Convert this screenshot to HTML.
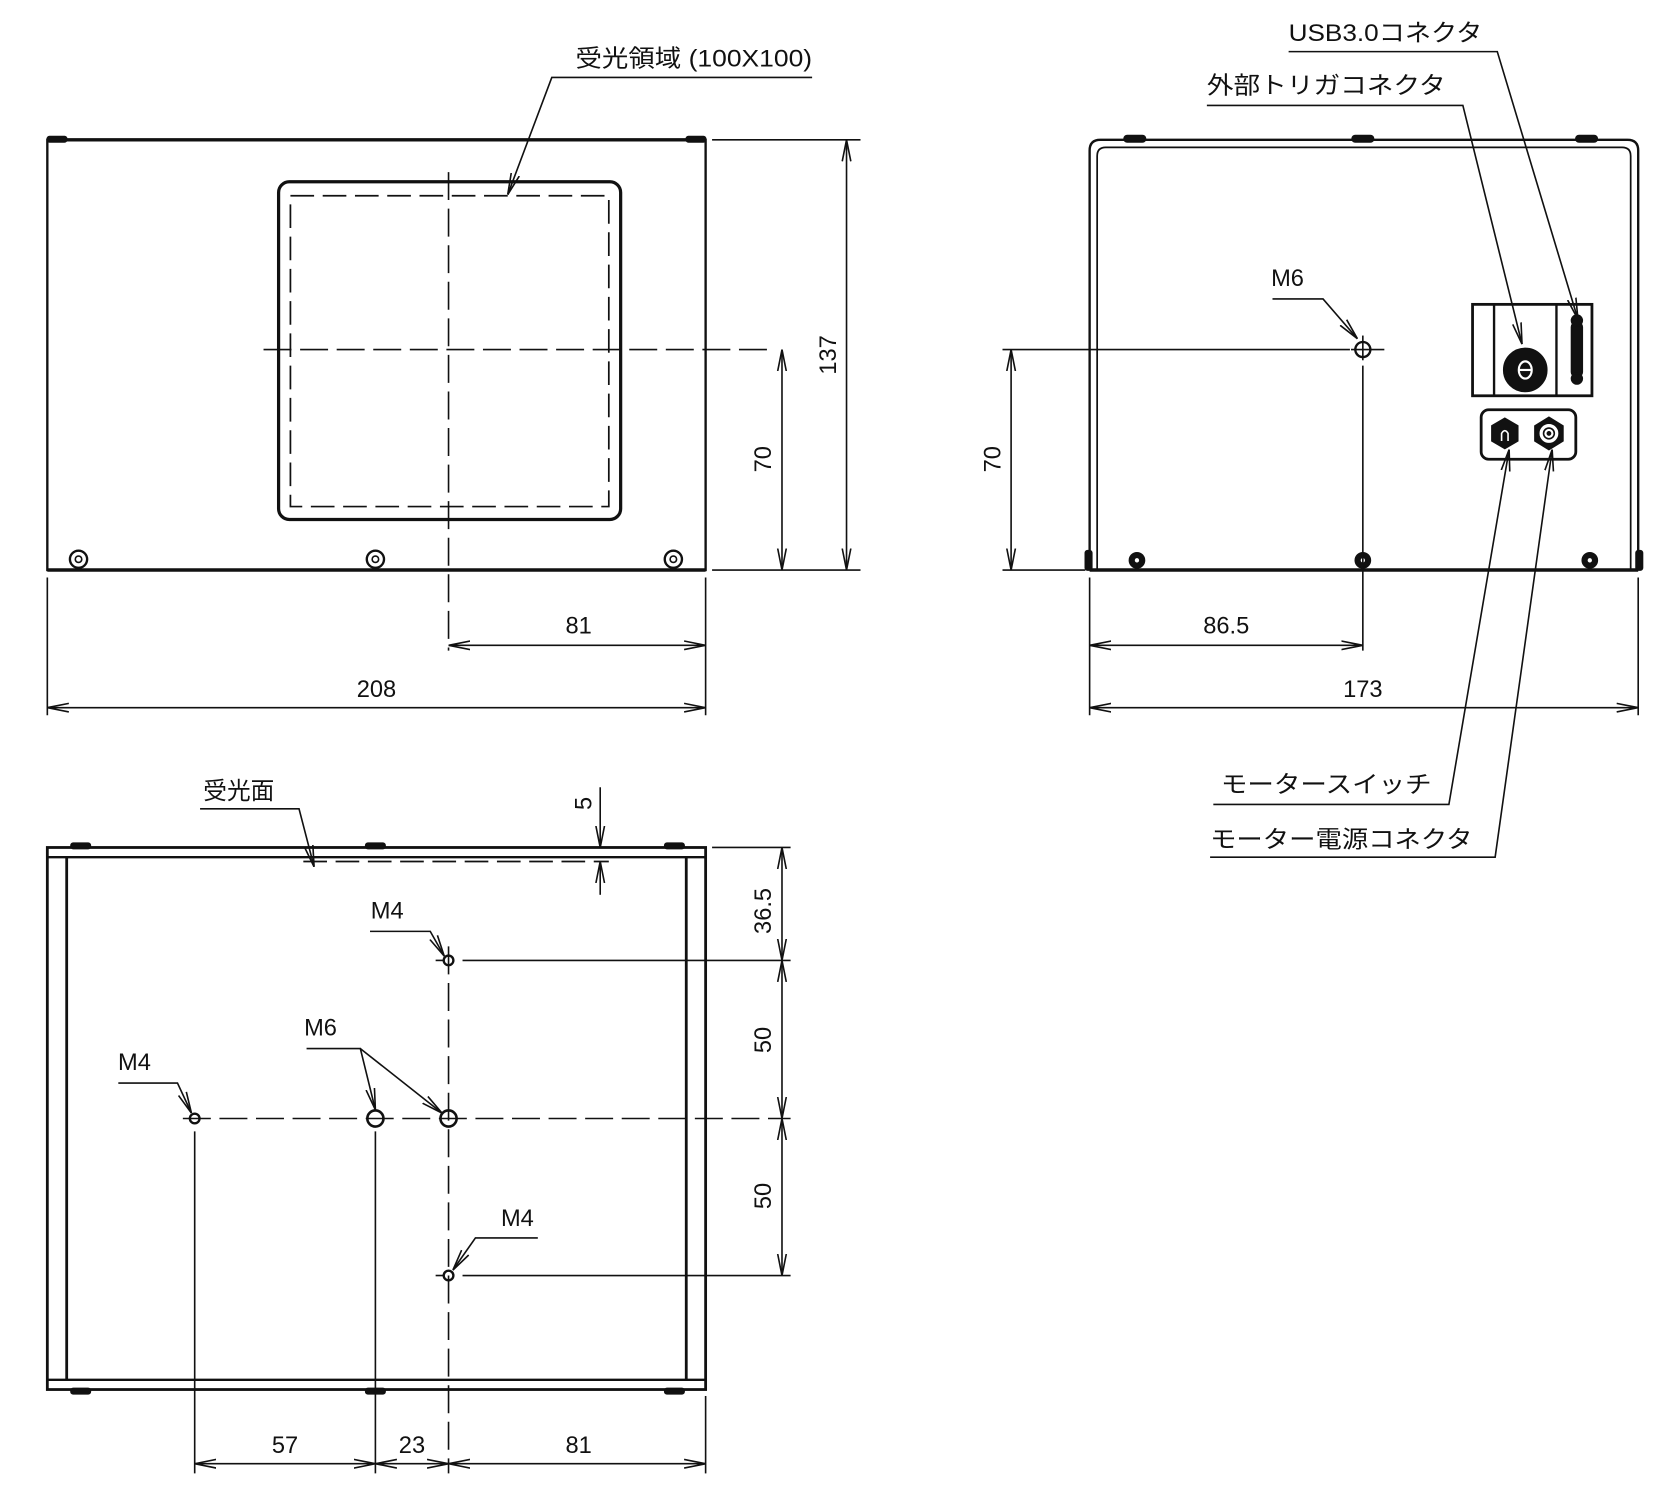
<!DOCTYPE html>
<html><head><meta charset="utf-8"><style>
html,body{margin:0;padding:0;background:#fff;}
svg{display:block;}
text{font-family:"Liberation Sans","Noto Sans CJK JP",sans-serif;fill:#111;font-size:22px;}
</style></head><body>
<svg width="1678" height="1496" viewBox="0 0 1560 1391" preserveAspectRatio="none" xmlns="http://www.w3.org/2000/svg">
<defs>
<marker id="a" viewBox="0 0 20 10" refX="20" refY="5" markerWidth="20" markerHeight="10" markerUnits="userSpaceOnUse" orient="auto-start-reverse">
<path d="M0,1 L20,5 L0,9" fill="none" stroke="#111" stroke-width="1.5"/>
</marker>
</defs>
<rect width="1560" height="1391" fill="#fff"/>
<g stroke="#111" fill="none" stroke-width="1.5">

<!-- ========== FRONT VIEW ========== -->
<rect x="44" y="130" width="612" height="400" stroke-width="2.2"/>
<line x1="44" y1="530" x2="656" y2="530" stroke-width="3.2"/>
<line x1="44" y1="130" x2="656" y2="130" stroke-width="3.2"/>
<rect x="44" y="127" width="18" height="5" rx="2" fill="#111"/>
<rect x="638" y="127" width="18" height="5" rx="2" fill="#111"/>
<rect x="259" y="169" width="318" height="314" rx="10" stroke-width="3"/>
<rect x="270" y="182" width="296" height="289" stroke-dasharray="22,8" stroke-width="1.6"/>
<line x1="417" y1="160" x2="417" y2="605" stroke-dasharray="26,8"/>
<line x1="245" y1="325" x2="720" y2="325" stroke-dasharray="26,8"/>
<circle cx="73" cy="520" r="8" stroke-width="2.2"/><circle cx="73" cy="520" r="3"/>
<circle cx="349" cy="520" r="8" stroke-width="2.2"/><circle cx="349" cy="520" r="3"/>
<circle cx="626" cy="520" r="8" stroke-width="2.2"/><circle cx="626" cy="520" r="3"/>
<line x1="662" y1="130" x2="800" y2="130"/>
<line x1="662" y1="530" x2="800" y2="530"/>
<line x1="787" y1="130" x2="787" y2="530" marker-start="url(#a)" marker-end="url(#a)"/>
<line x1="727" y1="325" x2="727" y2="530" marker-start="url(#a)" marker-end="url(#a)"/>
<line x1="44" y1="537" x2="44" y2="665"/>
<line x1="656" y1="537" x2="656" y2="665"/>
<line x1="417" y1="600" x2="656" y2="600" marker-start="url(#a)" marker-end="url(#a)"/>
<line x1="44" y1="658" x2="656" y2="658" marker-start="url(#a)" marker-end="url(#a)"/>
<polyline points="755,72 513,72 472,181" marker-end="url(#a)"/>

<!-- ========== SIDE VIEW ========== -->
<path d="M1013,530 L1013,140 Q1013,130 1023,130 L1513,130 Q1523,130 1523,140 L1523,530" stroke-width="2.2"/>
<path d="M1020,530 L1020,145 Q1020,137 1028,137 L1508,137 Q1516,137 1516,145 L1516,530" stroke-width="1.6"/>
<line x1="1013" y1="530" x2="1523" y2="530" stroke-width="3.2"/>
<rect x="1045" y="126" width="20" height="6" rx="3" fill="#111"/>
<rect x="1257" y="126" width="20" height="6" rx="3" fill="#111"/>
<rect x="1465" y="126" width="20" height="6" rx="3" fill="#111"/>
<rect x="1009" y="512" width="6" height="18" rx="2" fill="#111"/>
<rect x="1521" y="512" width="6" height="18" rx="2" fill="#111"/>
<circle cx="1057" cy="521" r="7" fill="#111"/><circle cx="1057" cy="521" r="2" fill="#fff" stroke="none"/>
<circle cx="1267" cy="521" r="7" fill="#111"/><circle cx="1267" cy="521" r="2" fill="#fff" stroke="none"/>
<circle cx="1478" cy="521" r="7" fill="#111"/><circle cx="1478" cy="521" r="2" fill="#fff" stroke="none"/>
<circle cx="1267" cy="325" r="7" stroke-width="2.2"/>
<line x1="1256" y1="325" x2="1287" y2="325"/>
<line x1="1267" y1="312" x2="1267" y2="335"/>
<line x1="1267" y1="340" x2="1267" y2="605"/>
<polyline points="1183,278 1230,278 1262,315" marker-end="url(#a)"/>
<rect x="1369" y="283" width="111" height="85" stroke-width="2.6"/>
<line x1="1389" y1="283" x2="1389" y2="368" stroke-width="2.2"/>
<line x1="1447" y1="283" x2="1447" y2="368" stroke-width="2.2"/>
<circle cx="1418" cy="344" r="20" fill="#111"/>
<ellipse cx="1418" cy="344" rx="6" ry="8" stroke="#fff" stroke-width="2"/>
<line x1="1412" y1="344" x2="1424" y2="344" stroke="#fff" stroke-width="2"/>
<rect x="1461" y="300" width="10" height="50" rx="4" fill="#111"/>
<circle cx="1466" cy="298" r="5" fill="#111"/>
<circle cx="1466" cy="352" r="5" fill="#111"/>
<rect x="1377" y="381" width="88" height="46" rx="7" stroke-width="2.6"/>
<polygon points="1399,389 1411,396 1411,410 1399,417 1387,410 1387,396" fill="#111"/>
<path d="M1396,410 L1396,403 Q1399,398 1402,403 L1402,410" stroke="#fff" stroke-width="1.5"/>
<polygon points="1440,388 1453,396 1453,410 1440,418 1427,410 1427,396" fill="#111"/>
<circle cx="1440" cy="403" r="8" fill="#fff" stroke="#fff"/>
<circle cx="1440" cy="403" r="5" stroke="#111" stroke-width="1.5"/>
<circle cx="1440" cy="403" r="1.5" fill="#111"/>
<polyline points="1198,48 1392,48 1467,297" marker-end="url(#a)"/>
<polyline points="1122,98 1360,98 1415,320" marker-end="url(#a)"/>
<polyline points="1128,748 1347,748 1403,418" marker-end="url(#a)"/>
<polyline points="1125,797 1390,797 1443,418" marker-end="url(#a)"/>
<line x1="932" y1="325" x2="1255" y2="325"/>
<line x1="932" y1="530" x2="1009" y2="530"/>
<line x1="940" y1="325" x2="940" y2="530" marker-start="url(#a)" marker-end="url(#a)"/>
<line x1="1013" y1="537" x2="1013" y2="665"/>
<line x1="1523" y1="537" x2="1523" y2="665"/>
<line x1="1013" y1="600" x2="1267" y2="600" marker-start="url(#a)" marker-end="url(#a)"/>
<line x1="1013" y1="658" x2="1523" y2="658" marker-start="url(#a)" marker-end="url(#a)"/>

<!-- ========== BOTTOM VIEW ========== -->
<rect x="44" y="788" width="612" height="504" stroke-width="2.6"/>
<line x1="44" y1="797" x2="656" y2="797" stroke-width="2.2"/>
<line x1="44" y1="1283" x2="656" y2="1283" stroke-width="2.2"/>
<line x1="62" y1="797" x2="62" y2="1283" stroke-width="2.6"/>
<line x1="638" y1="797" x2="638" y2="1283" stroke-width="2.6"/>
<rect x="66" y="784" width="18" height="5" rx="2" fill="#111"/>
<rect x="340" y="784" width="18" height="5" rx="2" fill="#111"/>
<rect x="618" y="784" width="18" height="5" rx="2" fill="#111"/>
<rect x="66" y="1291" width="18" height="5" rx="2" fill="#111"/>
<rect x="340" y="1291" width="18" height="5" rx="2" fill="#111"/>
<rect x="618" y="1291" width="18" height="5" rx="2" fill="#111"/>
<line x1="282" y1="801" x2="566" y2="801" stroke-dasharray="22,8" stroke-width="1.6"/>
<line x1="558" y1="732" x2="558" y2="788" marker-end="url(#a)"/>
<line x1="558" y1="832" x2="558" y2="801" marker-end="url(#a)"/>
<polyline points="186,752 278,752 292,806" marker-end="url(#a)"/>
<circle cx="417" cy="893" r="4.5" stroke-width="2.2"/>
<circle cx="417" cy="1186" r="4.5" stroke-width="2.2"/>
<circle cx="181" cy="1040" r="4.5" stroke-width="2.2"/>
<circle cx="349" cy="1040" r="7.5" stroke-width="2.4"/>
<circle cx="417" cy="1040" r="7.5" stroke-width="2.4"/>
<line x1="170" y1="1040" x2="735" y2="1040" stroke-dasharray="26,8"/>
<line x1="417" y1="880" x2="417" y2="1370" stroke-dasharray="26,8"/>
<line x1="405" y1="893" x2="412" y2="893"/>
<line x1="430" y1="893" x2="735" y2="893"/>
<line x1="405" y1="1186" x2="412" y2="1186"/>
<line x1="430" y1="1186" x2="735" y2="1186"/>
<line x1="181" y1="1052" x2="181" y2="1370"/>
<line x1="349" y1="1052" x2="349" y2="1370"/>
<line x1="656" y1="1298" x2="656" y2="1370"/>
<line x1="662" y1="788" x2="735" y2="788"/>
<polyline points="344,866 400,866 413,889" marker-end="url(#a)"/>
<polyline points="285,975 335,975 349,1032" marker-end="url(#a)"/>
<polyline points="335,975 411,1035" marker-end="url(#a)"/>
<polyline points="110,1007 165,1007 178,1035" marker-end="url(#a)"/>
<polyline points="500,1151 442,1151 421,1181" marker-end="url(#a)"/>
<line x1="727" y1="788" x2="727" y2="893" marker-start="url(#a)" marker-end="url(#a)"/>
<line x1="727" y1="893" x2="727" y2="1040" marker-start="url(#a)" marker-end="url(#a)"/>
<line x1="727" y1="1040" x2="727" y2="1186" marker-start="url(#a)" marker-end="url(#a)"/>
<line x1="181" y1="1361" x2="349" y2="1361" marker-start="url(#a)" marker-end="url(#a)"/>
<line x1="349" y1="1361" x2="417" y2="1361" marker-start="url(#a)" marker-end="url(#a)"/>
<line x1="417" y1="1361" x2="656" y2="1361" marker-start="url(#a)" marker-end="url(#a)"/>
</g>

<g text-anchor="middle">
<text x="645" y="62" textLength="220" lengthAdjust="spacingAndGlyphs">受光領域 (100X100)</text>
<text x="538" y="589">81</text>
<text x="350" y="648">208</text>
<text transform="translate(777,330) rotate(-90)">137</text>
<text transform="translate(717,427) rotate(-90)">70</text>
<text x="1197" y="266">M6</text>
<text transform="translate(930,427) rotate(-90)">70</text>
<text x="1140" y="589">86.5</text>
<text x="1267" y="648">173</text>
<text x="1288" y="38" textLength="180" lengthAdjust="spacingAndGlyphs">USB3.0コネクタ</text>
<text x="1233" y="87" textLength="222" lengthAdjust="spacingAndGlyphs">外部トリガコネクタ</text>
<text x="1233" y="737" textLength="196" lengthAdjust="spacingAndGlyphs">モータースイッチ</text>
<text x="1247" y="788" textLength="244" lengthAdjust="spacingAndGlyphs">モーター電源コネクタ</text>
<text x="222" y="743">受光面</text>
<text transform="translate(550,747) rotate(-90)">5</text>
<text x="360" y="854">M4</text>
<text x="298" y="963">M6</text>
<text x="125" y="995">M4</text>
<text x="481" y="1140">M4</text>
<text transform="translate(717,847) rotate(-90)">36.5</text>
<text transform="translate(717,967) rotate(-90)">50</text>
<text transform="translate(717,1112) rotate(-90)">50</text>
<text x="265" y="1351">57</text>
<text x="383" y="1351">23</text>
<text x="538" y="1351">81</text>
</g>
</svg>
</body></html>
